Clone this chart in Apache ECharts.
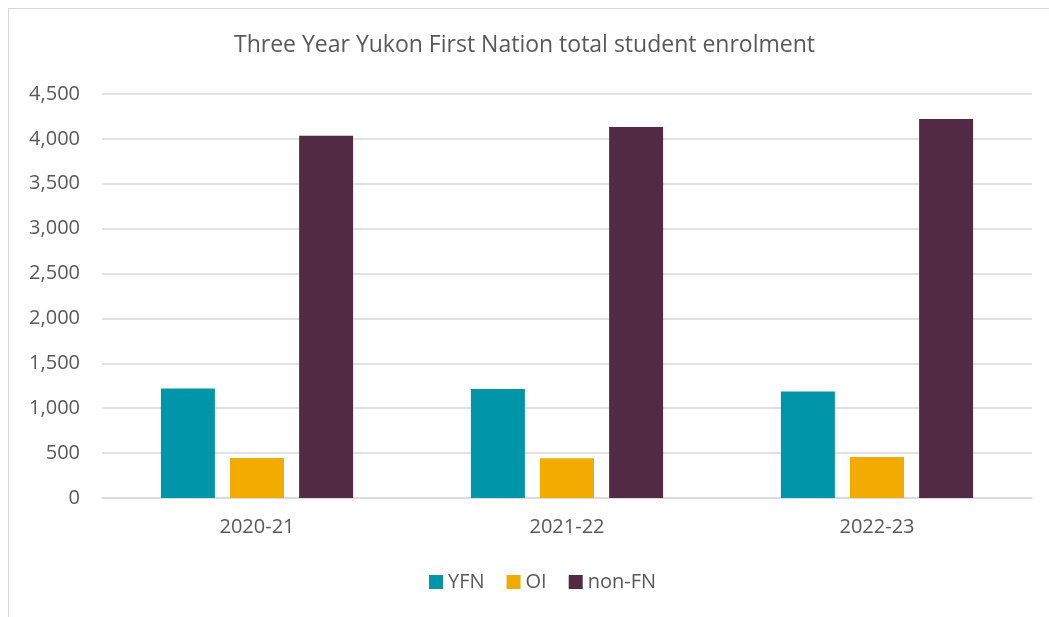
<!DOCTYPE html>
<html>
<head>
<meta charset="utf-8">
<script src="https://cdn.jsdelivr.net/npm/echarts@6/dist/echarts.min.js"></script>
<style>
  html, body { margin: 0; padding: 0; background: #fff; }
  .frame {
    position: absolute; left: 8px; top: 8px; width: 1060px; height: 640px;
    border: 1px solid #d9d9d9; box-sizing: border-box;
  }
  #chart { position: absolute; left: 0; top: 0; width: 1049px; height: 617px; }
</style>
</head>
<body>
<div class="frame"></div>
<div id="chart"></div>
<script>
// data
var years = ['2020-21', '2021-22', '2022-23'];
var yfn = [1220, 1215, 1185];
var oi = [445, 443, 458];
var nonFn = [4035, 4133, 4222];
var seriesNames = ['YFN', 'OI', 'non-FN'];
var colors = ['#0095a8', '#f2ab00', '#522a44'];

var txt = '#595959';
var fontName = 'Open Sans';

var chart = echarts.init(document.getElementById('chart'));
chart.setOption({
  animation: false,
  color: colors,
  title: {
    text: 'Three Year Yukon First Nation total student enrolment',
    left: 'center',
    top: 29,
    textStyle: { color: txt, fontFamily: fontName, fontWeight: 'normal', fontSize: 23 }
  },
  legend: {
    data: seriesNames,
    bottom: 20,
    left: 424,
    itemWidth: 14,
    itemHeight: 14,
    itemGap: 22,
    icon: 'rect',
    textStyle: { color: txt, fontFamily: fontName, fontSize: 20 }
  },
  grid: { left: 102, right: 17, top: 94, bottom: 119 },
  xAxis: {
    type: 'category',
    data: years,
    axisTick: { show: false },
    axisLine: { lineStyle: { color: '#d9d9d9', width: 1.5 } },
    axisLabel: { color: txt, fontFamily: fontName, fontSize: 20, margin: 19 }
  },
  yAxis: {
    type: 'value',
    min: 0,
    max: 4500,
    interval: 500,
    axisLine: { show: false },
    axisTick: { show: false },
    splitLine: { lineStyle: { color: '#d9d9d9', width: 1.5 } },
    axisLabel: {
      color: txt, fontFamily: fontName, fontSize: 20, margin: 22,
      formatter: function (v) { return v.toLocaleString('en-US'); }
    }
  },
  series: [
    { name: seriesNames[0], type: 'bar', data: yfn, barGap: '28%', barCategoryGap: '38%' },
    { name: seriesNames[1], type: 'bar', data: oi, barGap: '28%', barCategoryGap: '38%' },
    { name: seriesNames[2], type: 'bar', data: nonFn, barGap: '28%', barCategoryGap: '38%' }
  ]
});
</script>
</body>
</html>
